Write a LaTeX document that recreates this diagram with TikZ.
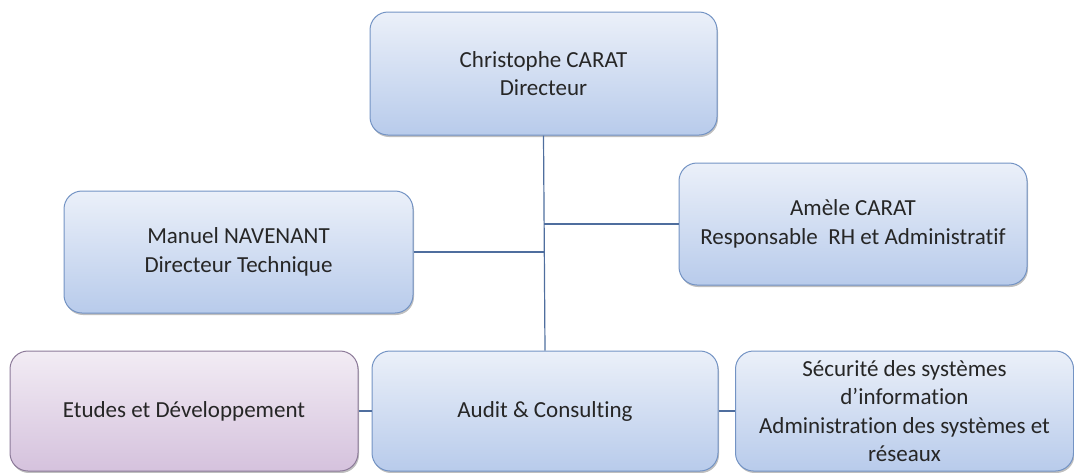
\documentclass[tikz,border=0pt]{standalone}
\usepackage{fontspec}
\setmainfont{Carlito}[Ligatures=CommonOff]
\usetikzlibrary{shadows}
\definecolor{bluetop}{HTML}{EBF0F9}
\definecolor{bluebot}{HTML}{B8CBEB}
\definecolor{blueline}{HTML}{7393C4}
\definecolor{purptop}{HTML}{F2ECF4}
\definecolor{purpbot}{HTML}{D5C2DD}
\definecolor{purpline}{HTML}{8C7A99}
\definecolor{conn}{HTML}{4F6E9E}
\definecolor{txt}{HTML}{262626}
\tikzset{
  box/.style={draw=blueline, line width=1pt, rounded corners=18pt,
    top color=bluetop, bottom color=bluebot, align=center, inner sep=2pt,
    font=\fontsize{23}{28.5}\selectfont, text=txt,
    drop shadow={shadow xshift=1pt, shadow yshift=-2pt, opacity=0.25, fill=black}},
  pbox/.style={box, draw=purpline, top color=purptop, bottom color=purpbot},
  conn/.style={draw=conn, line width=1.2pt}
}
\begin{document}
\begin{tikzpicture}[x=1pt,y=-1pt]
\useasboundingbox (0,0) rectangle (1074,472);
\node[box, minimum width=347pt, minimum height=123pt] (dir) at (543.5,73.5) {Christophe CARAT\\Directeur};
\node[box, minimum width=349pt, minimum height=122pt] (tech) at (238.5,252) {Manuel NAVENANT\\Directeur Technique};
\node[box, minimum width=348pt, minimum height=122pt] (rh) at (853,224) {Amèle CARAT\\Responsable~ RH et Administratif};
\node[pbox, minimum width=348pt, minimum height=120pt] (etu) at (184,411) {Etudes et Développement};
\node[box, minimum width=346pt, minimum height=120pt] (aud) at (545,411) {Audit \& Consulting};
\node[box, minimum width=338pt, minimum height=120pt, anchor=west] (sec) at (735,411) {Sécurité des systèmes\\d’information\\Administration des systèmes et\\réseaux};
\draw[conn] (dir.south) -- (aud.north);
\draw[conn] (tech.east) -- (tech.east -| dir.south);
\draw[conn] (rh.west) -- (rh.west -| dir.south);
\draw[conn] (etu.east) -- (aud.west);
\draw[conn] (aud.east) -- (sec.west);
\end{tikzpicture}
\end{document}
